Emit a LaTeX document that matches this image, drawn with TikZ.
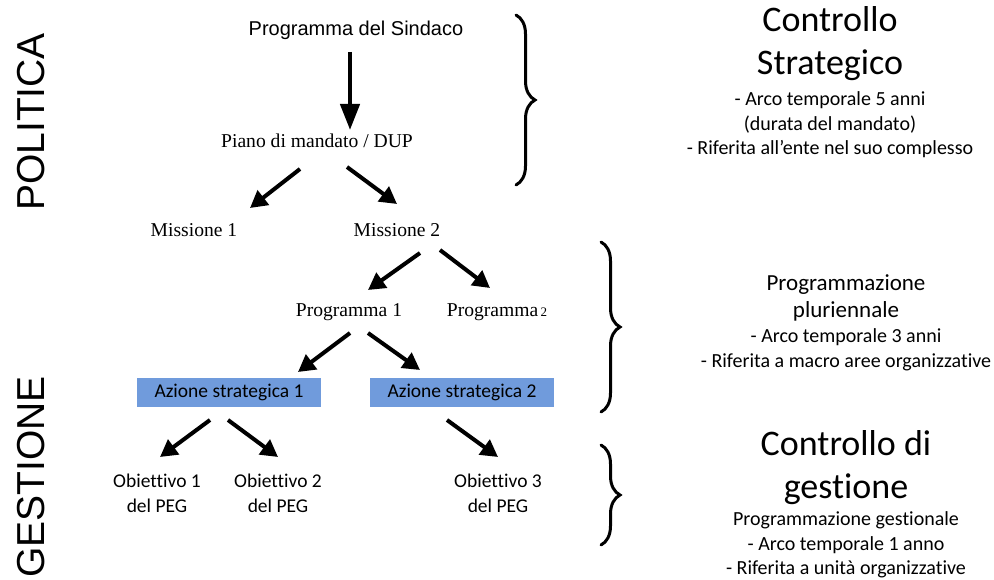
\documentclass[tikz,border=0pt]{standalone}
\usepackage{fontspec}
\setmainfont{Carlito}[Ligatures=NoCommon]
\newfontfamily\timesfont{Liberation Serif}
\newfontfamily\arialfont{Liberation Sans}
\usetikzlibrary{arrows.meta,decorations.pathreplacing}
\definecolor{azionefill}{RGB}{112,155,220}

\begin{document}
\begin{tikzpicture}[x=1pt,y=-1pt,
    serif/.style={font=\timesfont\fontsize{19.6}{22}\selectfont,inner sep=2pt},
    sans/.style={font=\arialfont\fontsize{20}{24}\selectfont,inner sep=2pt},
    side/.style={font=\arialfont\fontsize{39}{41}\selectfont,rotate=90,inner sep=0pt},
    azione/.style={fill=azionefill,minimum width=184pt,minimum height=29pt,inner sep=0pt,font=\fontsize{19.5}{22}\selectfont},
    obiettivo/.style={align=center,font=\fontsize{19.5}{25}\selectfont,inner sep=0pt},
    bigtitle/.style={align=center,font=\fontsize{36}{43}\selectfont,inner sep=0pt},
    midtitle/.style={align=center,font=\fontsize{23}{27}\selectfont,inner sep=0pt},
    desc/.style={align=center,font=\fontsize{20}{24.5}\selectfont,inner sep=0pt},
    arr/.style={line width=4pt,-{Triangle[length=17pt,width=18pt]}},
    bigarr/.style={line width=4.5pt,-{Triangle[length=26pt,width=19pt]}},
    graffa/.style={line width=3pt,line cap=round,decorate,decoration={brace,amplitude=19pt}}]
    \useasboundingbox (0,0) rectangle (994,580);
    % left labels
    \node[side] (politica) at (31,122) {POLITICA};
    \node[side] (gestione) at (31,477) {GESTIONE};
    % tree
    \node[sans] (sindaco) at (356,30) {Programma del Sindaco};
    \node[serif] (piano) at (317,141) {Piano di mandato / DUP};
    \node[serif] (mis1) at (194,230) {Missione 1};
    \node[serif] (mis2) at (397,230) {Missione 2};
    \node[serif] (prog1) at (349,312) {Programma 1};
    \node[serif] (prog2) at (497,312) {Programma{\fontsize{13}{15}\selectfont\,2}};
    \node[azione] (az1) at (229,392) {Azione strategica 1};
    \node[azione] (az2) at (462,392) {Azione strategica 2};
    \node[obiettivo] (ob1) at (157,493) {Obiettivo 1\\del PEG};
    \node[obiettivo] (ob2) at (278,493) {Obiettivo 2\\del PEG};
    \node[obiettivo] (ob3) at (498,493) {Obiettivo 3\\del PEG};
    \draw[bigarr] ([shift={(-6,22)}]sindaco.center) -- ([shift={(33,-11)}]piano.center);
    \draw[arr] ([shift={(-17,28)}]piano.center) -- ([shift={(56,-22)}]mis1.center);
    \draw[arr] ([shift={(30,26)}]piano.center) -- ([shift={(0,-26)}]mis2.center);
    \draw[arr] ([shift={(23,23)}]mis2.center) -- ([shift={(19,-22)}]prog1.center);
    \draw[arr] ([shift={(43,20)}]mis2.center) -- ([shift={(-7,-24)}]prog2.center);
    \draw[arr] ([shift={(1,21)}]prog1.center) -- ([shift={(69,-20)}]az1.center);
    \draw[arr] ([shift={(19,21)}]prog1.center) -- ([shift={(-42,-22)}]az2.center);
    \draw[arr] ([shift={(-19,28)}]az1.center) -- ([shift={(3,-36)}]ob1.center);
    \draw[arr] ([shift={(-1,28)}]az1.center) -- ([shift={(0,-36)}]ob2.center);
    \draw[arr] ([shift={(-15,28)}]az2.center) -- ([shift={(0,-36)}]ob3.center);
    % braces
    \draw[graffa] (516,15) -- (516,185);
    \draw[graffa] (601,242) -- (601,412);
    \draw[graffa] (601,445) -- (601,545);
    % right side
    \node[bigtitle] (cstitolo) at (830,44) {Controllo\\Strategico};
    \node[desc] (csdesc) at (830,125) {- Arco temporale 5 anni\\(durata del mandato)\\- Riferita all’ente nel suo complesso};
    \node[midtitle] (pptitolo) at (846,298) {Programmazione\\pluriennale};
    \node[desc] (ppdesc) at (846,350) {- Arco temporale 3 anni\\- Riferita a macro aree organizzative};
    \node[bigtitle] (cgtitolo) at (846,468) {Controllo di\\gestione};
    \node[desc] (cgdesc) at (846,545) {Programmazione gestionale\\- Arco temporale 1 anno\\- Riferita a unità organizzative};
\end{tikzpicture}
\end{document}
